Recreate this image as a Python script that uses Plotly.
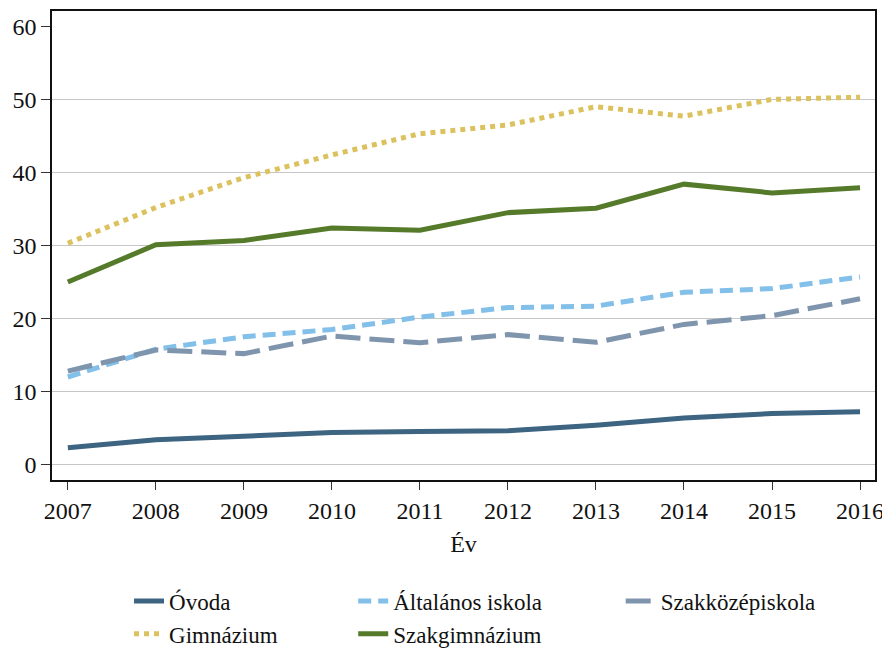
import plotly.graph_objects as go

years = [2007, 2008, 2009, 2010, 2011, 2012, 2013, 2014, 2015, 2016]
ovoda = [2.3, 3.4, 3.9, 4.4, 4.55, 4.65, 5.4, 6.4, 7.0, 7.25]
altalanos = [12.0, 15.8, 17.5, 18.5, 20.2, 21.5, 21.7, 23.6, 24.1, 25.7]
szakkozep = [12.8, 15.7, 15.2, 17.6, 16.7, 17.8, 16.75, 19.2, 20.4, 22.7]
gimnazium = [30.3, 35.2, 39.3, 42.4, 45.3, 46.5, 49.0, 47.7, 50.0, 50.3]
szakgimn = [25.0, 30.1, 30.7, 32.4, 32.1, 34.5, 35.1, 38.4, 37.2, 37.9]

# (name, values, color, dash, legend column)
series = [
    ("Óvoda", ovoda, "#3d6480", "solid", "legend"),
    ("Általános iskola", altalanos, "#82bfe9", "13px,7px", "legend2"),
    ("Szakközépiskola", szakkozep, "#7f95ad", "25px,9px", "legend3"),
    ("Gimnázium", gimnazium, "#dbc25f", "5px,5px", "legend"),
    ("Szakgimnázium", szakgimn, "#557a2a", "solid", "legend2"),
]

yticks = [0, 10, 20, 30, 40, 50, 60]
grid_ticks = [0, 10, 20, 30, 40, 50]
yrange = [-2.1, 62.1]

font = "Liberation Serif"
fs = 24

fig = go.Figure()
# grid helper axis
fig.add_trace(go.Scatter(x=[years[0]], y=[0], yaxis="y2", mode="markers",
                         marker=dict(opacity=0), showlegend=False, hoverinfo="skip"))
for name, vals, color, dash, leg in series:
    fig.add_trace(go.Scatter(x=years, y=vals, name=name, mode="lines", legend=leg,
                             legendgroup=name,
                             line=dict(color=color, width=5, dash=dash)))

leg_common = dict(orientation="v", yanchor="top", y=-0.212, xanchor="left",
                  font=dict(family=font, size=23, color="#111111"),
                  tracegroupgap=0, bgcolor="rgba(0,0,0,0)", itemwidth=30)

# page body has an 8px default margin, so the figure is sized to fit the window
fig.update_layout(
    width=882, height=645,
    margin=dict(l=44, r=15, t=3, b=173, autoexpand=False),
    paper_bgcolor="white", plot_bgcolor="white",
    font=dict(family=font, size=fs, color="#111111"),
    xaxis=dict(range=[2006.82, 2016.17], tickvals=years, showgrid=False,
               ticks="outside", ticklen=8, tickwidth=1.2, tickcolor="#333",
               tickfont=dict(family=font, size=fs),
               showline=True, linecolor="#111", linewidth=1.5, mirror=True,
               automargin=False,
               title=dict(text="Év", font=dict(family=font, size=fs), standoff=13),
               zeroline=False),
    yaxis=dict(range=yrange, tickvals=yticks, showgrid=False,
               ticks="outside", ticklen=9, tickwidth=1.2, tickcolor="#333",
               tickfont=dict(family=font, size=fs),
               showline=True, linecolor="#111", linewidth=1.5, mirror=True,
               automargin=False, zeroline=False),
    yaxis2=dict(range=yrange, tickvals=grid_ticks, overlaying="y", showgrid=True,
                gridcolor="#c6c6c6", gridwidth=1, showticklabels=False,
                zeroline=False, showline=False, ticks="", automargin=False),
    legend=dict(x=0.0936, **leg_common),
    legend2=dict(x=0.366, **leg_common),
    legend3=dict(x=0.691, **leg_common),
    showlegend=True,
)

fig.write_html("out.html")
